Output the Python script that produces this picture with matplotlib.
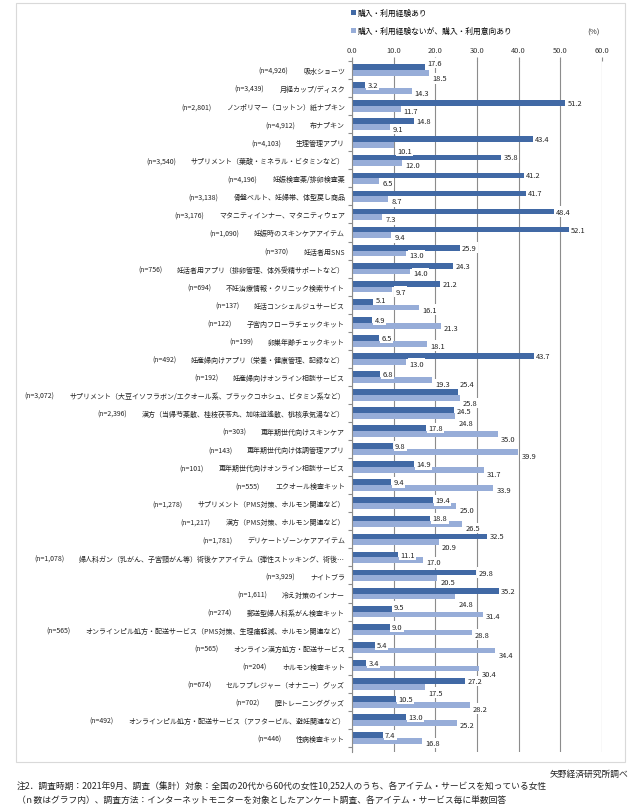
import matplotlib
matplotlib.use('Agg')
import matplotlib.pyplot as plt
from matplotlib.patches import Rectangle
import numpy as np

plt.rcParams['font.family'] = ['Noto Sans CJK JP', 'DejaVu Sans']

categories = [
    "吸水ショーツ",
    "月経カップ/ディスク",
    "ノンポリマー（コットン）紙ナプキン",
    "布ナプキン",
    "生理管理アプリ",
    "サプリメント（葉酸・ミネラル・ビタミンなど）",
    "妊娠検査薬/排卵検査薬",
    "骨盤ベルト、妊婦帯、体型戻し商品",
    "マタニティインナー、マタニティウェア",
    "妊娠時のスキンケアアイテム",
    "妊活者用SNS",
    "妊活者用アプリ（排卵管理、体外受精サポートなど）",
    "不妊治療情報・クリニック検索サイト",
    "妊活コンシェルジュサービス",
    "子宮内フローラチェックキット",
    "卵巣年齢チェックキット",
    "妊産婦向けアプリ（栄養・健康管理、記録など）",
    "妊産婦向けオンライン相談サービス",
    "サプリメント（大豆イソフラボン/エクオール系、ブラックコホシュ、ビタミン系など）",
    "漢方（当帰芍薬散、桂枝茯苓丸、加味逍遙散、桃核承気湯など）",
    "更年期世代向けスキンケア",
    "更年期世代向け体調管理アプリ",
    "更年期世代向けオンライン相談サービス",
    "エクオール検査キット",
    "サプリメント（PMS対策、ホルモン関連など）",
    "漢方（PMS対策、ホルモン関連など）",
    "デリケートゾーンケアアイテム",
    "婦人科ガン（乳がん、子宮頸がん等）術後ケアアイテム（弾性ストッキング、術後…",
    "ナイトブラ",
    "冷え対策のインナー",
    "郵送型婦人科系がん検査キット",
    "オンラインピル処方・配送サービス（PMS対策、生理痛軽減、ホルモン関連など）",
    "オンライン漢方処方・配送サービス",
    "ホルモン検査キット",
    "セルフプレジャー（オナニー）グッズ",
    "膣トレーニンググッズ",
    "オンラインピル処方・配送サービス（アフターピル、避妊関連など）",
    "性病検査キット",
]

n_labels = [
    "(n=4,926)", "(n=3,439)", "(n=2,801)", "(n=4,912)", "(n=4,103)",
    "(n=3,540)", "(n=4,196)", "(n=3,138)", "(n=3,176)", "(n=1,090)",
    "(n=370)", "(n=756)", "(n=694)", "(n=137)", "(n=122)",
    "(n=199)", "(n=492)", "(n=192)", "(n=3,072)", "(n=2,396)",
    "(n=303)", "(n=143)", "(n=101)", "(n=555)", "(n=1,278)",
    "(n=1,217)", "(n=1,781)", "(n=1,078)", "(n=3,929)", "(n=1,611)",
    "(n=274)", "(n=565)", "(n=565)", "(n=204)", "(n=674)",
    "(n=702)", "(n=492)", "(n=446)",
]

experienced = [
    17.6, 3.2, 51.2, 14.8, 43.4, 35.8, 41.2, 41.7, 48.4, 52.1,
    25.9, 24.3, 21.2, 5.1, 4.9, 6.5, 43.7, 6.8, 25.4, 24.5,
    17.8, 9.8, 14.9, 9.4, 19.4, 18.8, 32.5, 11.1, 29.8, 35.2,
    9.5, 9.0, 5.4, 3.4, 27.2, 10.5, 13.0, 7.4,
]

intent = [
    18.5, 14.3, 11.7, 9.1, 10.1, 12.0, 6.5, 8.7, 7.3, 9.4,
    13.0, 14.0, 9.7, 16.1, 21.3, 18.1, 13.0, 19.3, 25.8, 24.8,
    35.0, 39.9, 31.7, 33.9, 25.0, 26.5, 20.9, 17.0, 20.5, 24.8,
    31.4, 28.8, 34.4, 30.4, 17.5, 28.2, 25.2, 16.8,
]

series_names = ["購入・利用経験あり", "購入・利用経験ないが、購入・利用意向あり"]
x_ticks = [0, 10, 20, 30, 40, 50, 60]

# label vertical offsets in pixels (positive = downward), per row index
dark_offset_px = {0: -4, 13: -2, 18: -8, 19: 1, 30: -2}
light_offset_px = {0: 5.5, 4: 6, 17: 4, 18: 5, 19: 7, 20: 5, 21: 4, 22: 4, 24: 4,
                   25: 4, 26: 5, 28: 4, 29: 8, 32: 4, 33: 5, 34: 6, 35: 4}
DEFAULT_DARK_PX = 0
DEFAULT_LIGHT_PX = 2

DARK = '#4169A5'
LIGHT = '#97ADD8'
GRID = '#8c8c8c'

W, H = 641, 812
fig = plt.figure(figsize=(W / 100, H / 100), dpi=100)
ax = fig.add_axes([352 / W, 1 - 753 / H, (602 - 352) / W, (753 - 62) / H])

y = np.arange(len(categories))
h = 0.32
b1 = ax.barh(y - h / 2, experienced, height=h, color=DARK, zorder=2, label=series_names[0])
b2 = ax.barh(y + h / 2, intent, height=h, color=LIGHT, zorder=2, label=series_names[1])

ax.set_xlim(0, 60)
ax.set_ylim(len(categories) - 1 + 0.78, -0.5)
ax.xaxis.tick_top()
ax.set_xticks(x_ticks)
ax.set_xticklabels([f"{t:.1f}" for t in x_ticks])
ax.grid(axis='x', color=GRID, lw=0.8, zorder=1)
ax.set_axisbelow(True)
for s in ['top', 'right', 'bottom']:
    ax.spines[s].set_visible(False)
ax.spines['left'].set_color(GRID)
ax.spines['left'].set_linewidth(0.8)
ax.tick_params(axis='x', length=3, color=GRID, labelsize=5.4, pad=2, labelcolor='#333333')
ax.set_yticks(y)
ax.set_yticklabels(categories, fontsize=5)
ax.tick_params(axis='y', which='major', length=0, pad=5, labelcolor='#222222')
ax.set_yticks(np.arange(len(categories) + 1) - 0.5, minor=True)
ax.tick_params(axis='y', which='minor', length=3, color=GRID, width=0.8)

PX = 72 / 100  # points per pixel
box = dict(facecolor='white', edgecolor='none', pad=0.9)
for i, (yi, v) in enumerate(zip(y, experienced)):
    dy = dark_offset_px.get(i, DEFAULT_DARK_PX)
    ax.annotate(f"{v:.1f}", xy=(v, yi - h / 2), xytext=(1.6, -dy * PX), textcoords='offset points',
                ha='left', va='center', fontsize=5.4, color='#222222', bbox=box, zorder=5)
for i, (yi, v) in enumerate(zip(y, intent)):
    dy = light_offset_px.get(i, DEFAULT_LIGHT_PX)
    ax.annotate(f"{v:.1f}", xy=(v, yi + h / 2), xytext=(2.2, -dy * PX), textcoords='offset points',
                ha='left', va='center', fontsize=5.4, color='#222222', bbox=box, zorder=5)

leg = ax.legend(handles=[b1, b2], loc='upper left', bbox_to_anchor=(351 / W, 1 - 10 / H),
                bbox_transform=fig.transFigure, fontsize=5.6, frameon=False,
                handlelength=0.6, handleheight=0.6, handletextpad=0.3,
                labelspacing=1.25, borderpad=0, borderaxespad=0)

fig.text(593 / W, 1 - 33 / H, "(%)", fontsize=5.6, ha='center', va='center', color='#333333')

# n labels positioned left of each category label
fig.canvas.draw()
renderer = fig.canvas.get_renderer()
for lbl, nl in zip(ax.get_yticklabels(), n_labels):
    bb = lbl.get_window_extent(renderer)
    fig.text((bb.x0 - 15) / W, ((bb.y0 + bb.y1) / 2) / H, nl, fontsize=5,
             ha='right', va='center', color='#222222')

fig.patches.append(Rectangle((16 / W, 1 - 763 / H), (625 - 16) / W, (763 - 4) / H,
                             transform=fig.transFigure, fill=False, edgecolor='#d9d9d9', lw=0.8))

fig.text(628 / W, 1 - 774 / H, "矢野経済研究所調べ", fontsize=6.3, ha='right', va='center', color='#222222')
fig.text(17 / W, 1 - 787 / H,
         "注2．調査時期：2021年9月、調査（集計）対象：全国の20代から60代の女性10,252人のうち、各アイテム・サービスを知っている女性",
         fontsize=6.3, ha='left', va='center', color='#222222')
fig.text(17 / W, 1 - 800 / H,
         "（ｎ数はグラフ内）、調査方法：インターネットモニターを対象としたアンケート調査、各アイテム・サービス毎に単数回答",
         fontsize=6.3, ha='left', va='center', color='#222222')

fig.savefig('out.png', dpi=100)
